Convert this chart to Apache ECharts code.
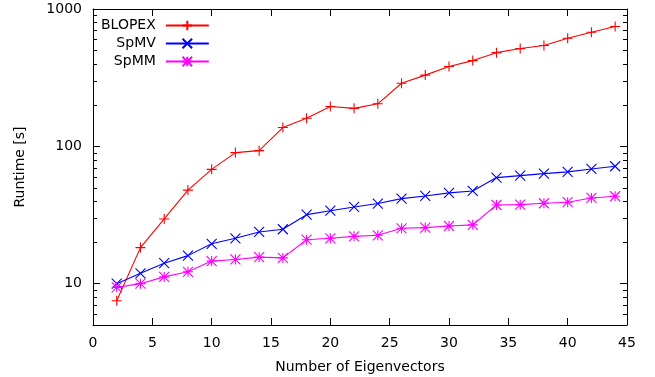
<!DOCTYPE html>
<html><head><meta charset="utf-8">
<script src="https://cdn.jsdelivr.net/npm/echarts@6/dist/echarts.min.js"></script>
<style>html,body{margin:0;padding:0;background:#fff}#c{width:655px;height:377px}</style>
</head><body><div id="c"></div>
<script>
const eigenvectors = [2,4,6,8,10,12,14,16,18,20,22,24,26,28,30,32,34,36,38,40,42,44];
const blopex = [7.5,18.3,29.6,48,68,90,93,137,160,195,189,204,288,330,381,421,481,515,542,613,677,745];
const spmv = [10,11.9,14.1,16,19.5,21.4,23.8,24.9,31.8,34,36.2,38.3,41.6,43.5,45.8,47.3,59.2,61.2,63.3,65.2,68.4,71.6];
const spmm = [9.4,10,11.2,12.2,14.6,15,15.6,15.4,20.9,21.4,22.1,22.5,25.3,25.6,26.3,26.8,37.4,37.6,38.5,39.2,42.1,43.3];
const seriesNames = ['BLOPEX','SpMV','SpMM'];
const xMin = 0, xMax = 45, xStep = 5;
const yMin = 5, yMax = 1000;
const yMajorTicks = [10,100,1000];
const yMinorTicks = [6,7,8,9,20,30,40,50,60,70,80,90,200,300,400,500,600,700,800,900];

const FONT = 'DejaVu Sans';
const FS = 14;
const sym = {
  plus: 'path://M0,5L10,5M5,0L5,10',
  cross: 'path://M0,0L10,10M0,10L10,0',
  star: 'path://M0,5L10,5M5,0L5,10M0,0L10,10M0,10L10,0'
};
function pairs(ys){ return eigenvectors.map((x,i)=>[x, ys[i]]); }
function lineSeries(name, ys, color, symbol){
  return {
    name, type:'line', data: pairs(ys), xAxisIndex:0, yAxisIndex:0,
    symbol, symbolSize: 10, showAllSymbol: true,
    lineStyle:{color, width:1.1},
    itemStyle:{color, borderColor: color, borderWidth: 1.1},
    emphasis:{disabled:true}, animation:false
  };
}
const axisCommon = {
  axisLine:{show:true, onZero:false, lineStyle:{color:'#000', width:1}},
  splitLine:{show:false},
};
const chart = echarts.init(document.getElementById('c'));
chart.setOption({
  animation:false,
  grid:{left:93, right:28, top:9, bottom:52, containLabel:false, outerBoundsMode:'none'},
  legend:{
    orient:'vertical', left:101, top:18.5, padding:0, align:'right',
    itemWidth:43, itemHeight:12, itemGap:4,
    data: seriesNames,
    textStyle:{fontFamily:FONT, fontSize:FS, lineHeight:12, color:'#000', padding:[0,5,0,0]}
  },
  xAxis:[
    Object.assign({type:'value', min:xMin, max:xMax, interval:xStep, position:'bottom',
      name:'Number of Eigenvectors', nameLocation:'middle', nameGap:35,
      nameTextStyle:{fontFamily:FONT, fontSize:FS, color:'#000'},
      axisTick:{show:true, inside:true, length:7, lineStyle:{color:'#000'}},
      axisLabel:{fontFamily:FONT, fontSize:FS, color:'#000', margin:11}}, axisCommon),
    Object.assign({type:'value', min:xMin, max:xMax, interval:xStep, position:'top',
      axisTick:{show:true, inside:true, length:7, lineStyle:{color:'#000'}},
      axisLabel:{show:false}}, axisCommon)
  ],
  yAxis:[
    Object.assign({type:'log', logBase:10, min:yMin, max:yMax, position:'left',
      name:'Runtime [s]', nameLocation:'middle', nameGap:66, nameRotate:90,
      nameTextStyle:{fontFamily:FONT, fontSize:FS, color:'#000'},
      axisTick:{show:true, inside:true, length:7, lineStyle:{color:'#000'}},
      axisLabel:{fontFamily:FONT, fontSize:FS, color:'#000', margin:11,
        formatter: v => yMajorTicks.some(t => Math.abs(t - v) < 1e-6 * t) ? String(Math.round(v)) : ''}}, axisCommon),
    Object.assign({type:'log', logBase:10, min:yMin, max:yMax, position:'right',
      axisTick:{show:true, inside:true, length:7, lineStyle:{color:'#000'}},
      axisLabel:{show:false}}, axisCommon)
  ],
  series:[
    lineSeries(seriesNames[0], blopex, '#ff0000', sym.plus),
    lineSeries(seriesNames[1], spmv, '#0000ff', sym.cross),
    lineSeries(seriesNames[2], spmm, '#ff00ff', sym.star),
    {
      type:'custom', name:'minorTicks', xAxisIndex:0, yAxisIndex:0, silent:true, clip:false,
      data: yMinorTicks.map(v => [xMin, v]),
      encode:{x:0, y:1},
      renderItem:(params, api) => {
        const v = api.value(1);
        const l = api.coord([xMin, v]);
        const r = api.coord([xMax, v]);
        const y = Math.round(l[1]) + 0.5;
        return {type:'group', children:[
          {type:'line', shape:{x1:l[0], y1:y, x2:l[0]+4, y2:y}, style:{stroke:'#000', lineWidth:1}},
          {type:'line', shape:{x1:r[0]-4, y1:y, x2:r[0], y2:y}, style:{stroke:'#000', lineWidth:1}}
        ]};
      }
    }
  ]
});
</script></body></html>
